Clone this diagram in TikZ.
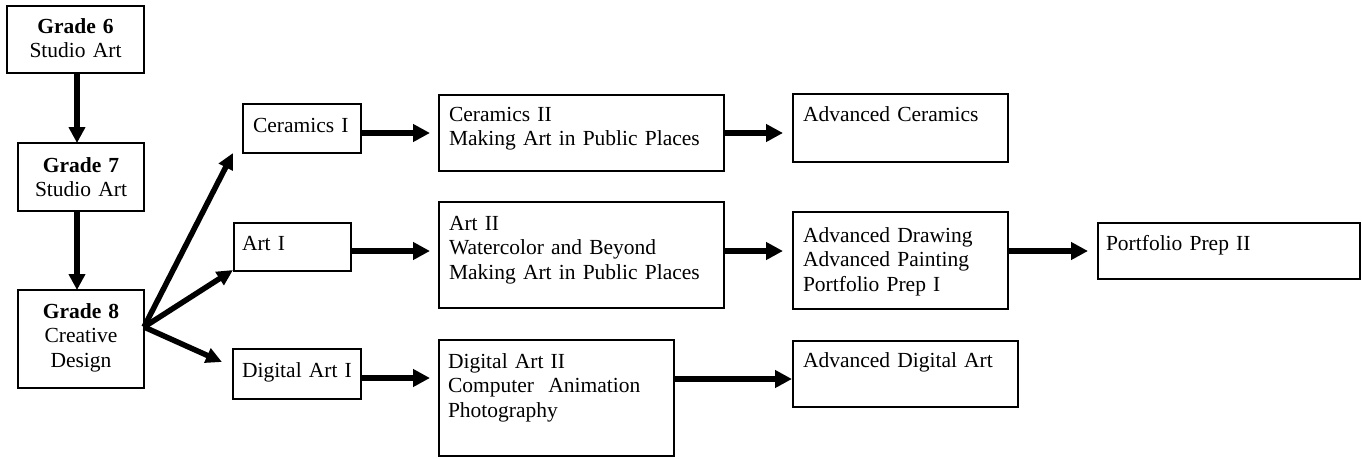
\documentclass[tikz,border=0pt]{standalone}
\usepackage{fontspec}
\setmainfont{Liberation Serif}
\usetikzlibrary{arrows.meta,calc}
\tikzset{
  box/.style={draw, line width=2.8pt, outer sep=0pt, anchor=north west,
    align=left, inner ysep=0pt, font=\fontsize{21.5}{24.5}\selectfont},
  gradebox/.style={box, align=center, inner xsep=0pt},
  arr/.style={line width=6.5pt, -{Triangle[length=17pt,width=17pt]}},
  varr/.style={line width=5.5pt, -{Triangle[length=16pt,width=16pt]}},
  darr/.style={line width=5.5pt, -{Triangle[length=16pt,width=15pt]}},
}
\begin{document}
\begin{tikzpicture}[x=1pt,y=-1pt]
\useasboundingbox (0,0) rectangle (1362,458);
% grade column
\node[gradebox, text width=137pt, text height=27pt, text depth=40pt] (g6) at (7,6) {\textbf{Grade 6}\\Studio Art};
\node[gradebox, text width=126pt, text height=29pt, text depth=39pt] (g7) at (18,143) {\textbf{Grade 7}\\Studio Art};
\node[gradebox, text width=126pt, text height=28pt, text depth=70pt] (g8) at (18,290) {\textbf{Grade 8}\\Creative\\Design};
% first level
\node[box, inner xsep=10pt, text width=98pt, text height=28pt, text depth=21pt] (cer1) at (243,104) {Ceramics I};
\node[box, inner xsep=8pt, text width=101pt, text height=27pt, text depth=21pt] (art1) at (234,223) {Art I};
\node[box, inner xsep=9pt, text width=110pt, text height=28pt, text depth=22pt] (dig1) at (233,349) {Digital Art I};
% second level
\node[box, inner xsep=10pt, text width=265pt, text height=26pt, text depth=50pt] (cer2) at (439,95) {Ceramics II\\Making Art in Public Places};
\node[box, inner xsep=10pt, text width=265pt, text height=28pt, text depth=78pt] (art2) at (439,202) {Art II\\Watercolor and Beyond\\Making Art in Public Places};
\node[box, inner xsep=9pt, text width=217pt, text height=28pt, text depth=88pt] (dig2) at (439,340) {Digital Art II\\Computer\ \ Animation\\Photography};
% third level
\node[box, inner xsep=10pt, text width=195pt, text height=27pt, text depth=41pt] (advcer) at (793,94) {Advanced Ceramics};
\node[box, inner xsep=10pt, text width=195pt, text height=30pt, text depth=67pt] (advdraw) at (793,212) {Advanced Drawing\\Advanced Painting\\Portfolio Prep I};
\node[box, inner xsep=10pt, text width=205pt, text height=26pt, text depth=40pt] (advdig) at (793,341) {Advanced Digital Art};
% fourth level
\node[box, inner xsep=8pt, text width=246pt, text height=27pt, text depth=29pt] (pp2) at (1098,223) {Portfolio Prep II};
% connectors
\draw[varr] ([xshift=1.5pt]g6.south) -- ([xshift=-4pt]g7.north);
\draw[varr] ([xshift=-4pt]g7.south) -- ([xshift=-4pt]g8.north);
\coordinate (hub) at ([yshift=12pt]g8.east);
\draw[darr] (hub) -- ([xshift=-10pt]cer1.south west);
\draw[darr] (hub) -- ([xshift=-1pt,yshift=1pt]art1.south west);
\draw[darr] (hub) -- ([xshift=-11pt,yshift=12pt]dig1.west);
\draw[arr, shorten >=9pt] (cer1.east |- cer2.west) -- (cer2.west);
\coordinate (a1) at ([yshift=-4pt]art1.east);
\draw[arr, shorten >=9pt] (a1) -- (a1 -| art2.west);
\coordinate (d1) at ([yshift=-4pt]dig1.east);
\draw[arr, shorten >=9pt] (d1) -- (d1 -| dig2.west);
\draw[arr, shorten >=10pt] (cer2.east) -- (cer2.east -| advcer.west);
\coordinate (a2) at ([yshift=4pt]art2.east);
\draw[arr, shorten >=10pt] (a2) -- (a2 -| advdraw.west);
\draw[arr, shorten >=10pt] (advdraw.east |- pp2.west) -- (pp2.west);
\coordinate (d2) at ([yshift=-5pt]advdig.west);
\draw[arr, shorten >=1pt] (d2 -| dig2.east) -- (d2);
\end{tikzpicture}
\end{document}
